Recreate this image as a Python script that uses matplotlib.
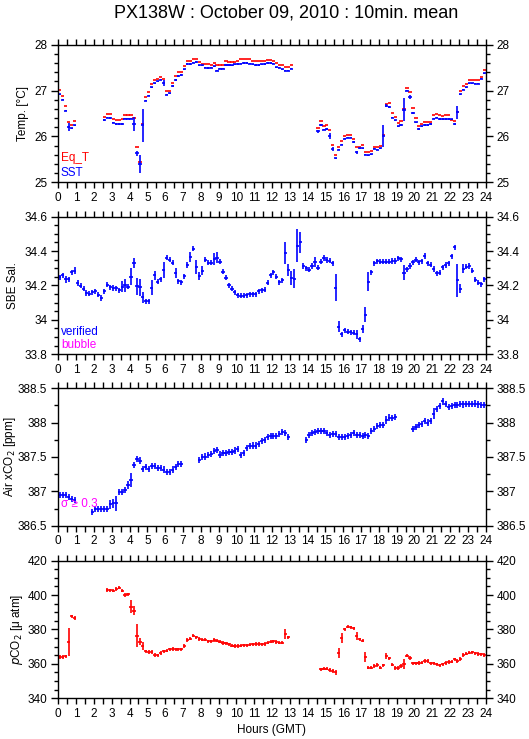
import numpy as np
import matplotlib
matplotlib.use("Agg")
import matplotlib.pyplot as plt
from matplotlib.ticker import MultipleLocator

NA = np.nan

# 10 minute bins over the day (index k -> k/6 .. (k+1)/6 hours)
hours = np.arange(144) / 6.0 + 1.0 / 12.0

sst = [26.92, 26.80, 26.56, 26.20, 26.18, 26.24, NA, NA, NA, NA, NA, NA,
       NA, NA, NA, 26.36, 26.41, 26.40, 26.30, 26.27, 26.27, 26.27, 26.39, 26.39,
       26.39, 26.27, 25.63, 25.40, 26.24, 26.78, 26.89, 27.07, 27.16, 27.20, 27.24, 27.16,
       26.91, 26.94, 27.10, 27.23, 27.32, 27.34, 27.46, 27.58, 27.58, 27.61, 27.62, 27.55,
       27.55, 27.50, 27.49, 27.50, 27.53, 27.43, 27.48, 27.48, 27.56, 27.56, 27.55, 27.57,
       27.58, 27.59, 27.60, 27.60, 27.59, 27.57, 27.56, 27.56, 27.57, 27.58, 27.60, 27.60,
       27.59, 27.51, 27.50, 27.46, 27.43, 27.43, 27.48, NA, NA, NA, NA, NA,
       NA, NA, NA, 26.11, 26.25, 26.15, 26.16, 26.01, 25.73, 25.52, 25.71, 25.82,
       25.95, 25.97, 25.97, 25.88, 25.65, 25.74, 25.74, 25.60, 25.59, 25.61, 25.73, 25.71,
       25.74, 26.01, 26.67, 26.64, 26.41, 26.35, 26.22, 26.25, 26.58, 27.00, 26.86, 26.51,
       26.31, 26.16, 26.22, 26.25, 26.25, 26.27, 26.39, 26.41, 26.38, 26.38, 26.38, 26.38,
       26.37, 26.27, 26.53, 26.92, 27.02, 27.07, 27.16, 27.16, 27.15, 27.15, 27.26, 27.38]

eq_t = [27.01, 26.88, 26.66, 26.31, 26.24, 26.33, NA, NA, NA, NA, NA, NA,
        NA, NA, NA, 26.42, 26.50, 26.50, 26.39, 26.36, 26.36, 26.37, 26.47, 26.47,
        26.47, 26.40, 25.76, 25.45, 26.28, 26.85, 26.96, 27.14, 27.24, 27.26, 27.29, 27.26,
        26.99, 27.00, 27.17, 27.31, 27.40, 27.40, 27.53, 27.64, 27.64, 27.69, 27.69, 27.63,
        27.59, 27.57, 27.57, 27.56, 27.61, 27.56, 27.56, 27.56, 27.64, 27.63, 27.63, 27.63,
        27.64, 27.68, 27.68, 27.68, 27.68, 27.64, 27.64, 27.64, 27.64, 27.64, 27.67, 27.67,
        27.65, 27.61, 27.56, 27.55, 27.52, 27.51, 27.56, NA, NA, NA, NA, NA,
        NA, NA, NA, 26.18, 26.34, 26.22, 26.24, 26.13, 25.82, 25.59, 25.76, 25.89,
        26.01, 26.03, 26.03, 25.95, 25.77, 25.77, 25.81, 25.66, 25.65, 25.68, 25.76, 25.78,
        25.80, 26.03, 26.71, 26.73, 26.51, 26.42, 26.29, 26.33, 26.60, 27.05, 26.97, 26.61,
        26.40, 26.23, 26.27, 26.32, 26.32, 26.32, 26.46, 26.48, 26.46, 26.45, 26.46, 26.46,
        26.35, 26.34, 26.54, 26.98, 27.09, 27.14, 27.23, 27.23, 27.22, 27.22, 27.30, 27.45]

sal = [34.248, 34.258, 34.235, 34.236, 34.277, 34.285, 34.213, 34.198, 34.181, 34.156, 34.152, 34.160,
       34.167, 34.146, 34.127, 34.167, 34.204, 34.190, 34.185, 34.183, 34.171, 34.194, 34.200, 34.194,
       34.252, 34.331, 34.196, 34.190, 34.131, 34.108, 34.108, 34.187, 34.258, 34.221, 34.236, 34.290,
       34.362, 34.350, 34.333, 34.271, 34.225, 34.219, 34.254, 34.319, 34.363, 34.413, 34.308, 34.256,
       34.287, 34.350, 34.333, 34.333, 34.356, 34.362, 34.337, 34.281, 34.244, 34.200, 34.181, 34.160,
       34.144, 34.140, 34.140, 34.142, 34.148, 34.148, 34.148, 34.167, 34.171, 34.175, 34.215, 34.258,
       34.277, 34.250, 34.219, 34.229, 34.387, 34.290, 34.244, 34.238, 34.431, 34.450, 34.313, 34.300,
       34.292, 34.313, 34.335, 34.304, 34.338, 34.360, 34.348, 34.344, 34.329, 34.187, 33.960, 33.917,
       33.940, 33.930, 33.927, 33.925, 33.917, 33.886, 33.948, 34.031, 34.223, 34.277, 34.329, 34.340,
       34.337, 34.337, 34.338, 34.338, 34.342, 34.342, 34.358, 34.352, 34.275, 34.294, 34.313, 34.335,
       34.350, 34.335, 34.340, 34.371, 34.329, 34.321, 34.296, 34.271, 34.275, 34.306, 34.319, 34.329,
       34.369, 34.421, 34.229, 34.181, 34.298, 34.310, 34.313, 34.285, 34.233, 34.217, 34.206, 34.236]

xco2 = [386.947, 386.947, 386.947, 386.913, 386.888, 386.874, NA, NA, NA, NA, NA, 386.704,
        386.738, 386.738, 386.738, 386.738, 386.738, 386.810, 386.825, 386.825, 386.985, 386.985, 387.020, 387.087,
        387.165, 387.383, 387.466, 387.447, 387.320, 387.350, 387.325, 387.369, 387.364, 387.340, 387.340, 387.316,
        387.277, 387.281, 387.316, 387.359, 387.398, 387.393, NA, NA, NA, NA, NA, 387.456,
        387.495, 387.505, 387.529, 387.544, 387.583, 387.602, 387.534, 387.553, 387.553, 387.568, 387.568, 387.592,
        387.617, 387.529, 387.553, 387.631, 387.655, 387.665, 387.665, 387.689, 387.733, 387.746, 387.790, 387.804,
        387.804, 387.804, 387.838, 387.862, 387.853, 387.794, NA, NA, NA, NA, NA, 387.746,
        387.824, 387.853, 387.867, 387.882, 387.882, 387.872, 387.843, 387.824, 387.838, 387.838, 387.794, 387.794,
        387.794, 387.804, 387.819, 387.853, 387.814, 387.814, 387.804, 387.824, 387.804, 387.877, 387.911, 387.950,
        387.960, 387.960, 388.038, 388.072, 388.062, 388.086, NA, NA, NA, NA, NA, 387.901,
        387.935, 387.960, 387.974, 388.023, 387.999, 388.023, 388.130, 388.193, 388.242, 388.310, 388.271, 388.228,
        388.242, 388.252, 388.252, 388.266, 388.262, 388.266, 388.266, 388.271, 388.276, 388.262, 388.252, 388.252]

pco2 = [364.0, 364.0, 364.4, 372.5, 387.7, 386.7, NA, NA, NA, NA, NA, NA,
        NA, NA, NA, NA, 403.0, 402.8, 402.6, 403.6, 404.3, 402.6, 400.0, 400.4,
        393.3, 391.0, 376.4, 373.0, 370.2, 367.3, 366.8, 366.8, 365.2, 365.0, 366.2, 367.3,
        367.7, 368.4, 368.7, 368.5, 368.5, 368.5, 370.4, 373.9, 374.7, 376.4, 375.4, 374.5,
        374.1, 374.1, 373.1, 373.1, 373.9, 373.5, 372.9, 372.2, 372.0, 371.4, 370.6, 370.4,
        370.4, 370.6, 370.8, 370.8, 371.2, 371.4, 371.6, 371.6, 371.4, 371.6, 372.3, 372.9,
        373.1, 372.7, 372.3, 372.3, 377.4, 375.4, NA, NA, NA, NA, NA, NA,
        NA, NA, NA, NA, 356.8, 357.2, 357.2, 356.4, 355.9, 355.1, 366.5, 375.3,
        380.1, 381.6, 381.2, 380.7, 376.2, 374.3, 373.5, 363.8, 357.8, 357.8, 358.8, 359.3,
        357.8, 359.2, 364.6, 363.2, 359.6, 357.6, 357.6, 358.8, 360.1, 364.8, 363.4, 360.3,
        360.3, 360.5, 360.7, 361.7, 361.7, 360.3, 360.3, 359.7, 359.2, 359.7, 360.5, 361.1,
        361.3, 362.7, 361.7, 362.9, 365.2, 366.0, 366.5, 366.7, 366.1, 365.7, 365.5, 365.2]

# standard deviations, only where they are larger than the plotted cross
sst_err_k = [3, 25, 26, 27, 28, 35, 87, 91, 92, 100, 109, 110, 116, 118, 134]
sst_err_v = [0.09, 0.16, 0.055, 0.2, 0.36, 0.07, 0.04, 0.055, 0.045, 0.04, 0.24, 0.035, 0.25, 0.045, 0.14]

sal_err_k = [2, 5, 6, 21, 22, 24, 25, 26, 27, 28, 31, 32, 35, 39, 44, 46, 47, 48, 52, 53,
             76, 77, 78, 79, 80, 81, 85, 86, 93, 94, 100, 102, 103, 104, 116, 134, 135, 136]
sal_err_v = [0.02, 0.02, 0.017, 0.03, 0.04, 0.048, 0.027, 0.05, 0.05, 0.03, 0.043, 0.027, 0.048, 0.029,
             0.029, 0.04, 0.022, 0.029, 0.035, 0.032, 0.064, 0.035, 0.043, 0.055, 0.096, 0.06, 0.015,
             0.03, 0.079, 0.032, 0.026, 0.024, 0.042, 0.058, 0.042, 0.094, 0.026, 0.027]

xco2_err_k = [17, 18, 19, 23, 24, 25, 110, 126, 129]
xco2_err_v = [0.06, 0.07, 0.11, 0.06, 0.1, 0.05, 0.06, 0.085, 0.05]

pco2_err_k = [3, 24, 25, 26, 27, 28, 76, 93, 94, 95, 100, 103, 110, 116]
pco2_err_v = [8.2, 3.7, 2.4, 6.6, 2.2, 2.3, 3.0, 1.6, 2.9, 2.9, 2.1, 2.9, 1.9, 2.9]


def make_err(ks, vs, floor):
    e = np.full(144, floor)
    for k, v in zip(ks, vs):
        e[k] = max(v, floor)
    return e


plt.rcParams['font.family'] = ['Liberation Sans', 'DejaVu Sans']
plt.rcParams['font.size'] = 8.5

fig = plt.figure(figsize=(5.29, 7.39), dpi=100)
fig.text(0.54, 0.983, "PX138W : October 09, 2010 : 10min. mean", ha='center', va='center', fontsize=13)

left, width, h = 0.1102, 0.8079, 0.1862
bottoms = [0.7533, 0.5206, 0.2886, 0.0551]
axes = [fig.add_axes([left, b, width, h]) for b in bottoms]


def style(ax, ylim, major, minor):
    ax.set_xlim(0, 24)
    ax.set_ylim(*ylim)
    ax.xaxis.set_major_locator(MultipleLocator(1))
    ax.xaxis.set_minor_locator(MultipleLocator(0.5))
    ax.yaxis.set_major_locator(MultipleLocator(major))
    ax.yaxis.set_minor_locator(MultipleLocator(minor))
    ax.tick_params(which='both', direction='out', top=True, right=True, labelright=True, width=1)
    ax.tick_params(axis='x', which='both', length=4, pad=3)
    ax.tick_params(axis='y', which='major', length=5, pad=3)
    ax.tick_params(axis='y', which='minor', length=3)
    ax.yaxis.set_major_formatter(matplotlib.ticker.FormatStrFormatter('%g'))
    for s in ax.spines.values():
        s.set_linewidth(1)


def crosses(ax, y, err, color):
    ax.errorbar(hours, y, xerr=0.09, yerr=err, fmt='none', ecolor=color, elinewidth=1.2, capsize=0)


# Temperature
ax = axes[0]
ax.errorbar(hours, eq_t, xerr=0.09, fmt='none', ecolor='red', elinewidth=1.2, capsize=0)
crosses(ax, sst, make_err(sst_err_k, sst_err_v, 0.014), 'blue')
style(ax, (25, 28), 1, 0.2)
ax.set_ylabel("Temp. [°C]", labelpad=4)
ax.text(0.006, 0.177, "Eq_T", color='red', transform=ax.transAxes, va='center')
ax.text(0.006, 0.068, "SST", color='blue', transform=ax.transAxes, va='center')

# Salinity
ax = axes[1]
crosses(ax, sal, make_err(sal_err_k, sal_err_v, 0.015), 'blue')
style(ax, (33.8, 34.6), 0.2, 0.05)
ax.set_ylabel("SBE Sal.", labelpad=4)
ax.text(0.006, 0.159, "verified", color='blue', transform=ax.transAxes, va='center')
ax.text(0.006, 0.067, "bubble", color='magenta', transform=ax.transAxes, va='center')

# Air xCO2
ax = axes[2]
crosses(ax, xco2, make_err(xco2_err_k, xco2_err_v, 0.045), 'blue')
style(ax, (386.5, 388.5), 0.5, 0.25)
ax.set_ylabel("Air xCO$_2$ [ppm]", labelpad=0)
ax.text(0.006, 0.158, "σ ≥ 0.3", color='magenta', transform=ax.transAxes, va='center')

# pCO2
ax = axes[3]
crosses(ax, pco2, make_err(pco2_err_k, pco2_err_v, 1.0), 'red')
style(ax, (340, 420), 20, 5)
ax.set_ylabel("$p$CO$_2$ [μ atm]", labelpad=2)
ax.set_xlabel("Hours (GMT)", labelpad=3)

fig.savefig("out.png", dpi=100)
